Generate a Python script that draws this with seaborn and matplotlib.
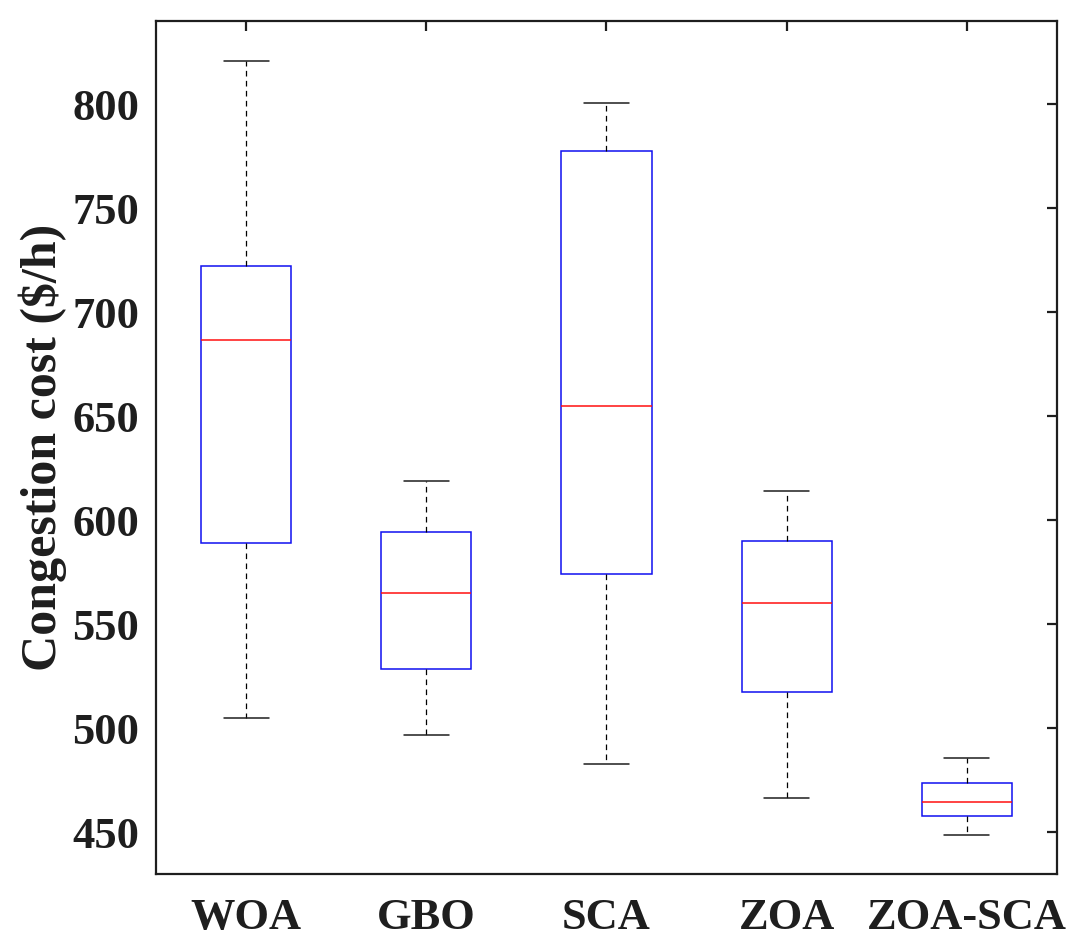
import numpy as np
import pandas as pd
import matplotlib
matplotlib.use("Agg")
import matplotlib.pyplot as plt
import seaborn as sns

# Values (five-number summaries per algorithm)
algorithms = ["WOA", "GBO", "SCA", "ZOA", "ZOA-SCA"]
whisker_low = [505.0, 496.6, 483.0, 466.5, 448.7]
quartile_1 = [589.1, 528.4, 574.4, 517.5, 457.7]
medians = [686.8, 564.9, 655.0, 560.1, 464.7]
quartile_3 = [722.1, 594.5, 777.7, 589.9, 473.8]
whisker_high = [821.0, 618.7, 800.5, 614.2, 485.7]
y_ticks = [450, 500, 550, 600, 650, 700, 750, 800]
y_label = "Congestion cost ($/h)"

rows = []
for i, name in enumerate(algorithms):
    for v in (whisker_low[i], quartile_1[i], medians[i], quartile_3[i], whisker_high[i]):
        rows.append({"Algorithm": name, "Cost": v})
df = pd.DataFrame(rows)

sns.set_theme(style="white")
plt.rcParams["font.family"] = ["Liberation Serif", "DejaVu Serif"]
plt.rcParams["font.weight"] = "bold"

ink = "#1e1e1e"
fig = plt.figure(figsize=(10.87, 9.51), dpi=100)
ax = fig.add_axes([0.1435, 0.0810, 0.8289, 0.8969])

sns.boxplot(
    data=df, x="Algorithm", y="Cost", order=algorithms, ax=ax,
    whis=(0, 100), width=0.5, fill=True, color="white", showfliers=False,
    boxprops=dict(facecolor="white", edgecolor="#1010f0", linewidth=1.1),
    medianprops=dict(color="#ff1010", linewidth=1.1),
    whiskerprops=dict(color="black", linewidth=0.9, linestyle=(0, (4.5, 3.5))),
    capprops=dict(color="#1e1e1e", linewidth=1.1),
)

ax.set_xlim(-0.5, len(algorithms) - 0.5)
ax.set_ylim(430, 840)
ax.set_yticks(y_ticks)
ax.set_xlabel("")
ax.set_ylabel(y_label, fontsize=36, fontweight="bold", color=ink, labelpad=4)

for sp in ax.spines.values():
    sp.set_visible(True)
    sp.set_linewidth(1.6)
    sp.set_color(ink)

ax.tick_params(axis="both", which="major", direction="in", length=7.5, width=1.6,
               color=ink, labelcolor=ink, labelsize=32, top=True, right=True)
ax.tick_params(axis="y", pad=12)
ax.tick_params(axis="x", pad=17.5)
for lab in ax.get_xticklabels() + ax.get_yticklabels():
    lab.set_fontweight("bold")

ax.grid(False)
fig.savefig("out.png", dpi=100, facecolor="white")
